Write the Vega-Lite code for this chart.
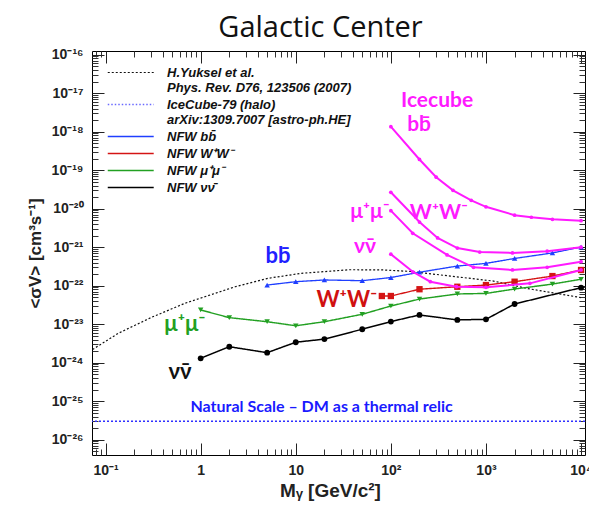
{
  "$schema": "https://vega.github.io/schema/vega-lite/v6.json",
  "width": 493,
  "height": 404,
  "autosize": {"type": "none"},
  "padding": {"left": 92, "top": 51, "right": 4, "bottom": 63},
  "background": "white",
  "title": {"text": "Galactic Center", "font": "Open Sans", "fontSize": 29, "fontWeight": "normal", "color": "#111111", "anchor": "middle", "dx": -18, "offset": 5},
  "config": {
    "view": {"stroke": "black", "strokeWidth": 1},
    "axis": {"grid": false, "domain": false, "labelFont": "Liberation Sans", "labelFontWeight": "bold", "labelFontSize": 14, "labelColor": "#222222", "titleFont": "Liberation Sans", "titleFontWeight": "bold", "titleColor": "#222222", "tickColor": "#333333"},
    "legend": {"orient": "top-left", "offset": 15, "title": null, "symbolType": "M-1,0L7,0", "symbolSize": 132, "symbolStrokeWidth": 2, "labelFont": "Liberation Sans", "labelFontStyle": "italic", "labelFontWeight": "bold", "labelFontSize": 13, "labelColor": "#111111", "labelOffset": 47, "rowPadding": 3, "labelLimit": 300}
  },
  "datasets": {
    "nfw": [
      {"series": "Yuksel", "M": 0.073, "sv": 2.2e-24},
      {"series": "Yuksel", "M": 0.136, "sv": 5.8e-24},
      {"series": "Yuksel", "M": 0.305, "sv": 1.51e-23},
      {"series": "Yuksel", "M": 0.684, "sv": 3.5e-23},
      {"series": "Yuksel", "M": 2.3, "sv": 9.4e-23},
      {"series": "Yuksel", "M": 5.14, "sv": 1.56e-22},
      {"series": "Yuksel", "M": 11.5, "sv": 2.1e-22},
      {"series": "Yuksel", "M": 19.5, "sv": 2.31e-22},
      {"series": "Yuksel", "M": 37, "sv": 2.6e-22},
      {"series": "Yuksel", "M": 82, "sv": 2.57e-22},
      {"series": "Yuksel", "M": 160, "sv": 2.35e-22},
      {"series": "Yuksel", "M": 420, "sv": 1.78e-22},
      {"series": "Yuksel", "M": 1200, "sv": 1.32e-22},
      {"series": "Yuksel", "M": 2700, "sv": 8.5e-23},
      {"series": "Yuksel", "M": 10000, "sv": 4.9e-23},
      {"series": "NFW bb", "M": 5, "sv": 1.04e-22},
      {"series": "NFW bb", "M": 10, "sv": 1.27e-22},
      {"series": "NFW bb", "M": 20, "sv": 1.41e-22},
      {"series": "NFW bb", "M": 50, "sv": 1.35e-22},
      {"series": "NFW bb", "M": 100, "sv": 1.63e-22},
      {"series": "NFW bb", "M": 200, "sv": 2.24e-22},
      {"series": "NFW bb", "M": 500, "sv": 3.24e-22},
      {"series": "NFW bb", "M": 1000, "sv": 3.8e-22},
      {"series": "NFW bb", "M": 2000, "sv": 5.1e-22},
      {"series": "NFW bb", "M": 5000, "sv": 7.1e-22},
      {"series": "NFW bb", "M": 10000, "sv": 1.01e-21},
      {"series": "NFW WW", "M": 80.4, "sv": 5.4e-23},
      {"series": "NFW WW", "M": 100, "sv": 5.4e-23},
      {"series": "NFW WW", "M": 200, "sv": 8.1e-23},
      {"series": "NFW WW", "M": 500, "sv": 9.4e-23},
      {"series": "NFW WW", "M": 1000, "sv": 1.04e-22},
      {"series": "NFW WW", "M": 2000, "sv": 1.27e-22},
      {"series": "NFW WW", "M": 5000, "sv": 1.78e-22},
      {"series": "NFW WW", "M": 10000, "sv": 2.56e-22},
      {"series": "NFW mumu", "M": 1, "sv": 2.34e-23},
      {"series": "NFW mumu", "M": 2, "sv": 1.48e-23},
      {"series": "NFW mumu", "M": 5, "sv": 1.16e-23},
      {"series": "NFW mumu", "M": 10, "sv": 9.1e-24},
      {"series": "NFW mumu", "M": 20, "sv": 1.16e-23},
      {"series": "NFW mumu", "M": 50, "sv": 1.81e-23},
      {"series": "NFW mumu", "M": 100, "sv": 2.97e-23},
      {"series": "NFW mumu", "M": 200, "sv": 4.5e-23},
      {"series": "NFW mumu", "M": 500, "sv": 6.1e-23},
      {"series": "NFW mumu", "M": 1000, "sv": 6.3e-23},
      {"series": "NFW mumu", "M": 2000, "sv": 8.2e-23},
      {"series": "NFW mumu", "M": 5000, "sv": 1.1e-22},
      {"series": "NFW mumu", "M": 10000, "sv": 1.47e-22},
      {"series": "NFW nunu", "M": 1, "sv": 1.3e-24},
      {"series": "NFW nunu", "M": 2, "sv": 2.6e-24},
      {"series": "NFW nunu", "M": 5, "sv": 1.82e-24},
      {"series": "NFW nunu", "M": 10, "sv": 3.4e-24},
      {"series": "NFW nunu", "M": 20, "sv": 4.1e-24},
      {"series": "NFW nunu", "M": 50, "sv": 7.4e-24},
      {"series": "NFW nunu", "M": 100, "sv": 1.17e-23},
      {"series": "NFW nunu", "M": 200, "sv": 1.74e-23},
      {"series": "NFW nunu", "M": 500, "sv": 1.29e-23},
      {"series": "NFW nunu", "M": 1000, "sv": 1.34e-23},
      {"series": "NFW nunu", "M": 2000, "sv": 3.35e-23},
      {"series": "NFW nunu", "M": 10000, "sv": 8.9e-23}
    ],
    "ice": [
      {"channel": "bb", "M": 100, "sv": 1.35e-18},
      {"channel": "bb", "M": 200, "sv": 1.9e-19},
      {"channel": "bb", "M": 300, "sv": 6.6e-20},
      {"channel": "bb", "M": 450, "sv": 3.0e-20},
      {"channel": "bb", "M": 700, "sv": 1.65e-20},
      {"channel": "bb", "M": 1000, "sv": 1.12e-20},
      {"channel": "bb", "M": 2000, "sv": 6.8e-21},
      {"channel": "bb", "M": 3000, "sv": 6.0e-21},
      {"channel": "bb", "M": 5000, "sv": 5.3e-21},
      {"channel": "bb", "M": 10000, "sv": 4.9e-21},
      {"channel": "WW", "M": 100, "sv": 2.67e-20},
      {"channel": "WW", "M": 200, "sv": 4.5e-21},
      {"channel": "WW", "M": 310, "sv": 1.74e-21},
      {"channel": "WW", "M": 500, "sv": 9.5e-22},
      {"channel": "WW", "M": 860, "sv": 7.5e-22},
      {"channel": "WW", "M": 1900, "sv": 7.1e-22},
      {"channel": "WW", "M": 4400, "sv": 7.9e-22},
      {"channel": "WW", "M": 10000, "sv": 1.0e-21},
      {"channel": "mumu", "M": 100, "sv": 8.9e-21},
      {"channel": "mumu", "M": 170, "sv": 2.3e-21},
      {"channel": "mumu", "M": 390, "sv": 6.3e-22},
      {"channel": "mumu", "M": 740, "sv": 3.0e-22},
      {"channel": "mumu", "M": 1900, "sv": 2.56e-22},
      {"channel": "mumu", "M": 4400, "sv": 3.0e-22},
      {"channel": "mumu", "M": 10000, "sv": 4.2e-22},
      {"channel": "nunu", "M": 100, "sv": 6.6e-22},
      {"channel": "nunu", "M": 170, "sv": 2.3e-22},
      {"channel": "nunu", "M": 260, "sv": 1.27e-22},
      {"channel": "nunu", "M": 490, "sv": 9.4e-23},
      {"channel": "nunu", "M": 1000, "sv": 9.1e-23},
      {"channel": "nunu", "M": 2900, "sv": 1.15e-22},
      {"channel": "nunu", "M": 10000, "sv": 2.56e-22}
    ],
    "notes": [
      {"group": "nfw_bb", "label": "bb̄", "M": 6.5, "sv": 5.9e-22},
      {"group": "nfw_ww", "label": "W⁺W⁻", "M": 34.5, "sv": 4.3e-23},
      {"group": "nfw_mumu", "label": "μ⁺μ⁻", "M": 0.684, "sv": 1.0e-23},
      {"group": "nfw_nunu", "label": "νν̄", "M": 0.605, "sv": 5.8e-25},
      {"group": "ice", "label": "νν̄", "M": 53.4, "sv": 1.0e-21},
      {"group": "ice", "label": "μ⁺μ⁻", "M": 60.3, "sv": 8.1e-21},
      {"group": "ice", "label": "W⁺W⁻", "M": 320, "sv": 7.8e-21},
      {"group": "ice", "label": "Icecube", "M": 306, "sv": 6.3e-18},
      {"group": "ice", "label": "bb̄", "M": 198, "sv": 1.5e-18},
      {"group": "relic", "label": "Natural Scale – DM as a thermal relic", "M": 18.7, "sv": 7.2e-26}
    ]
  },
  "resolve": {"axis": {"x": "independent", "y": "independent"}},
  "layer": [
    {
      "data": {"name": "nfw"},
      "mark": {"type": "line", "clip": true},
      "encoding": {
        "x": {"field": "M", "type": "quantitative", "scale": {"type": "log", "domain": [0.072, 11000], "nice": false},
          "axis": {"orient": "bottom", "values": [0.1, 1, 10, 100, 1000, 10000], "tickSize": -12, "tickColor": "#222222", "labelPadding": 20,
            "labelExpr": "round(log(datum.value)/LN10) == 0 ? '1' : round(log(datum.value)/LN10) == 1 ? '10' : round(log(datum.value)/LN10) == -1 ? '10⁻¹' : '10' + ['⁰','¹','²','³','⁴','⁵','⁶','⁷','⁸','⁹'][round(log(datum.value)/LN10)]",
            "title": "Mᵧ [GeV/c²]", "titleFontSize": 19, "titlePadding": 4, "titleX": 238}},
        "y": {"field": "sv", "type": "quantitative", "scale": {"type": "log", "domain": [4e-27, 1.25e-16], "nice": false},
          "axis": {"orient": "left", "values": [1e-26, 1e-25, 1e-24, 1e-23, 1e-22, 1e-21, 1e-20, 1e-19, 1e-18, 1e-17, 1e-16], "tickSize": -12, "tickColor": "#222222", "labelPadding": 21,
            "labelExpr": "'10⁻' + ['⁰','¹','²','³','⁴','⁵','⁶','⁷','⁸','⁹'][floor(-round(log(datum.value)/LN10)/10)] + ['⁰','¹','²','³','⁴','⁵','⁶','⁷','⁸','⁹'][(-round(log(datum.value)/LN10)) % 10]",
            "title": "<σV> [cm³s⁻¹]", "titleFontSize": 17, "titlePadding": 6}},
        "color": {"field": "series", "type": "nominal",
          "scale": {"domain": ["Yuksel", "IceCube79", "NFW bb", "NFW WW", "NFW mumu", "NFW nunu"], "range": ["#111111", "#6a6aff", "#1f3fff", "#d41414", "#22a022", "#000000"]},
          "legend": {"labelExpr": "datum.label == 'Yuksel' ? ['H.Yuksel et al.', 'Phys. Rev. D76, 123506 (2007)'] : datum.label == 'IceCube79' ? ['IceCube-79 (halo)', '\u2003arXiv:1309.7007 [astro-ph.HE]'] : datum.label == 'NFW bb' ? 'NFW bb̄' : datum.label == 'NFW WW' ? 'NFW W⁺W⁻' : datum.label == 'NFW mumu' ? 'NFW μ⁺μ⁻' : 'NFW νν̄'"}},
        "strokeDash": {"field": "series", "type": "nominal",
          "scale": {"domain": ["Yuksel", "IceCube79", "NFW bb", "NFW WW", "NFW mumu", "NFW nunu"], "range": [[2, 2], [1.5, 2], [1, 0], [1, 0], [1, 0], [1, 0]]},
          "legend": {"labelExpr": "datum.label == 'Yuksel' ? ['H.Yuksel et al.', 'Phys. Rev. D76, 123506 (2007)'] : datum.label == 'IceCube79' ? ['IceCube-79 (halo)', '\u2003arXiv:1309.7007 [astro-ph.HE]'] : datum.label == 'NFW bb' ? 'NFW bb̄' : datum.label == 'NFW WW' ? 'NFW W⁺W⁻' : datum.label == 'NFW mumu' ? 'NFW μ⁺μ⁻' : 'NFW νν̄'"}},
        "strokeWidth": {"field": "series", "type": "nominal",
          "scale": {"domain": ["Yuksel", "IceCube79", "NFW bb", "NFW WW", "NFW mumu", "NFW nunu"], "range": [1.2, 1.5, 2, 2, 2, 2]},
          "legend": {"labelExpr": "datum.label == 'Yuksel' ? ['H.Yuksel et al.', 'Phys. Rev. D76, 123506 (2007)'] : datum.label == 'IceCube79' ? ['IceCube-79 (halo)', '\u2003arXiv:1309.7007 [astro-ph.HE]'] : datum.label == 'NFW bb' ? 'NFW bb̄' : datum.label == 'NFW WW' ? 'NFW W⁺W⁻' : datum.label == 'NFW mumu' ? 'NFW μ⁺μ⁻' : 'NFW νν̄'"}}
      }
    },
    {
      "data": {"name": "nfw"},
      "transform": [{"filter": "datum.series == 'NFW bb'"}],
      "mark": {"type": "point", "filled": true, "opacity": 1, "size": 30, "shape": "triangle-up", "color": "#1f3fff", "clip": true},
      "encoding": {
        "x": {"field": "M", "type": "quantitative", "scale": {"type": "log", "domain": [0.072, 11000], "nice": false},
          "axis": {"orient": "bottom", "values": [0.08, 0.09, 0.2, 0.3, 0.4, 0.5, 0.6, 0.7, 0.8, 0.9, 2, 3, 4, 5, 6, 7, 8, 9, 20, 30, 40, 50, 60, 70, 80, 90, 200, 300, 400, 500, 600, 700, 800, 900, 2000, 3000, 4000, 5000, 6000, 7000, 8000, 9000], "tickSize": -6, "labels": false, "title": null}},
        "y": {"field": "sv", "type": "quantitative", "scale": {"type": "log", "domain": [4e-27, 1.25e-16], "nice": false},
          "axis": {"orient": "left", "values": [5e-27, 6e-27, 7e-27, 8e-27, 9e-27, 2e-26, 3e-26, 4e-26, 5e-26, 6e-26, 7e-26, 8e-26, 9e-26, 2e-25, 3e-25, 4e-25, 5e-25, 6e-25, 7e-25, 8e-25, 9e-25, 2e-24, 3e-24, 4e-24, 5e-24, 6e-24, 7e-24, 8e-24, 9e-24, 2e-23, 3e-23, 4e-23, 5e-23, 6e-23, 7e-23, 8e-23, 9e-23, 2e-22, 3e-22, 4e-22, 5e-22, 6e-22, 7e-22, 8e-22, 9e-22, 2e-21, 3e-21, 4e-21, 5e-21, 6e-21, 7e-21, 8e-21, 9e-21, 2e-20, 3e-20, 4e-20, 5e-20, 6e-20, 7e-20, 8e-20, 9e-20, 2e-19, 3e-19, 4e-19, 5e-19, 6e-19, 7e-19, 8e-19, 9e-19, 2e-18, 3e-18, 4e-18, 5e-18, 6e-18, 7e-18, 8e-18, 9e-18, 2e-17, 3e-17, 4e-17, 5e-17, 6e-17, 7e-17, 8e-17, 9e-17], "tickSize": -6, "labels": false, "title": null}}
      }
    },
    {
      "data": {"name": "nfw"},
      "transform": [{"filter": "datum.series == 'NFW WW'"}],
      "mark": {"type": "point", "filled": true, "opacity": 1, "size": 40, "shape": "square", "color": "#d41414", "clip": true},
      "encoding": {
        "x": {"field": "M", "type": "quantitative", "axis": null},
        "y": {"field": "sv", "type": "quantitative", "axis": null}
      }
    },
    {
      "data": {"name": "nfw"},
      "transform": [{"filter": "datum.series == 'NFW mumu'"}],
      "mark": {"type": "point", "filled": true, "opacity": 1, "size": 30, "shape": "triangle-down", "color": "#22a022", "clip": true},
      "encoding": {
        "x": {"field": "M", "type": "quantitative", "axis": null},
        "y": {"field": "sv", "type": "quantitative", "axis": null}
      }
    },
    {
      "data": {"name": "nfw"},
      "transform": [{"filter": "datum.series == 'NFW nunu'"}],
      "mark": {"type": "point", "filled": true, "opacity": 1, "size": 34, "shape": "circle", "color": "#000000", "clip": true},
      "encoding": {
        "x": {"field": "M", "type": "quantitative", "axis": null},
        "y": {"field": "sv", "type": "quantitative", "axis": null}
      }
    },
    {
      "data": {"name": "ice"},
      "mark": {"type": "line", "color": "#ff1aff", "strokeWidth": 2, "clip": true},
      "encoding": {
        "x": {"field": "M", "type": "quantitative", "scale": {"type": "log", "domain": [0.072, 11000], "nice": false},
          "axis": {"orient": "top", "values": [0.1, 1, 10, 100, 1000, 10000], "tickSize": -12, "tickColor": "#222222", "labels": false, "title": null}},
        "y": {"field": "sv", "type": "quantitative", "scale": {"type": "log", "domain": [4e-27, 1.25e-16], "nice": false},
          "axis": {"orient": "right", "values": [1e-26, 1e-25, 1e-24, 1e-23, 1e-22, 1e-21, 1e-20, 1e-19, 1e-18, 1e-17, 1e-16], "tickSize": -12, "tickColor": "#222222", "labels": false, "title": null}},
        "detail": {"field": "channel", "type": "nominal"}
      }
    },
    {
      "data": {"name": "ice"},
      "mark": {"type": "point", "filled": true, "opacity": 1, "size": 14, "color": "#ff1aff", "clip": true},
      "encoding": {
        "x": {"field": "M", "type": "quantitative", "scale": {"type": "log", "domain": [0.072, 11000], "nice": false},
          "axis": {"orient": "top", "values": [0.08, 0.09, 0.2, 0.3, 0.4, 0.5, 0.6, 0.7, 0.8, 0.9, 2, 3, 4, 5, 6, 7, 8, 9, 20, 30, 40, 50, 60, 70, 80, 90, 200, 300, 400, 500, 600, 700, 800, 900, 2000, 3000, 4000, 5000, 6000, 7000, 8000, 9000], "tickSize": -6, "labels": false, "title": null}},
        "y": {"field": "sv", "type": "quantitative", "scale": {"type": "log", "domain": [4e-27, 1.25e-16], "nice": false},
          "axis": {"orient": "right", "values": [5e-27, 6e-27, 7e-27, 8e-27, 9e-27, 2e-26, 3e-26, 4e-26, 5e-26, 6e-26, 7e-26, 8e-26, 9e-26, 2e-25, 3e-25, 4e-25, 5e-25, 6e-25, 7e-25, 8e-25, 9e-25, 2e-24, 3e-24, 4e-24, 5e-24, 6e-24, 7e-24, 8e-24, 9e-24, 2e-23, 3e-23, 4e-23, 5e-23, 6e-23, 7e-23, 8e-23, 9e-23, 2e-22, 3e-22, 4e-22, 5e-22, 6e-22, 7e-22, 8e-22, 9e-22, 2e-21, 3e-21, 4e-21, 5e-21, 6e-21, 7e-21, 8e-21, 9e-21, 2e-20, 3e-20, 4e-20, 5e-20, 6e-20, 7e-20, 8e-20, 9e-20, 2e-19, 3e-19, 4e-19, 5e-19, 6e-19, 7e-19, 8e-19, 9e-19, 2e-18, 3e-18, 4e-18, 5e-18, 6e-18, 7e-18, 8e-18, 9e-18, 2e-17, 3e-17, 4e-17, 5e-17, 6e-17, 7e-17, 8e-17, 9e-17], "tickSize": -6, "labels": false, "title": null}}
      }
    },
    {
      "data": {"values": [{"level": "thermal relic"}]},
      "mark": {"type": "rule", "color": "#3030ff", "strokeWidth": 1.6, "strokeDash": [2, 2]},
      "encoding": {
        "y": {"datum": 3e-26, "type": "quantitative", "scale": {"type": "log", "domain": [4e-27, 1.25e-16], "nice": false}, "axis": null}
      }
    },
    {
      "data": {"name": "notes"},
      "transform": [{"filter": "datum.group == 'nfw_bb'"}],
      "mark": {"type": "text", "font": "Lato", "fontWeight": "bold", "fontSize": 22, "color": "#2020ff"},
      "encoding": {
        "x": {"field": "M", "type": "quantitative", "axis": null},
        "y": {"field": "sv", "type": "quantitative", "axis": null},
        "text": {"field": "label"}
      }
    },
    {
      "data": {"name": "notes"},
      "transform": [{"filter": "datum.group == 'nfw_ww'"}],
      "mark": {"type": "text", "font": "Lato", "fontWeight": "bold", "fontSize": 22, "color": "#d01010"},
      "encoding": {
        "x": {"field": "M", "type": "quantitative", "axis": null},
        "y": {"field": "sv", "type": "quantitative", "axis": null},
        "text": {"field": "label"}
      }
    },
    {
      "data": {"name": "notes"},
      "transform": [{"filter": "datum.group == 'nfw_mumu'"}],
      "mark": {"type": "text", "font": "Lato", "fontWeight": "bold", "fontSize": 22, "color": "#22a022"},
      "encoding": {
        "x": {"field": "M", "type": "quantitative", "axis": null},
        "y": {"field": "sv", "type": "quantitative", "axis": null},
        "text": {"field": "label"}
      }
    },
    {
      "data": {"name": "notes"},
      "transform": [{"filter": "datum.group == 'nfw_nunu'"}],
      "mark": {"type": "text", "font": "Lato", "fontWeight": "bold", "fontSize": 22, "color": "#111111"},
      "encoding": {
        "x": {"field": "M", "type": "quantitative", "axis": null},
        "y": {"field": "sv", "type": "quantitative", "axis": null},
        "text": {"field": "label"}
      }
    },
    {
      "data": {"name": "notes"},
      "transform": [{"filter": "datum.group == 'ice'"}],
      "mark": {"type": "text", "font": "Lato", "fontWeight": "bold", "fontSize": 21, "color": "#ff1aff"},
      "encoding": {
        "x": {"field": "M", "type": "quantitative", "axis": null},
        "y": {"field": "sv", "type": "quantitative", "axis": null},
        "text": {"field": "label"}
      }
    },
    {
      "data": {"name": "notes"},
      "transform": [{"filter": "datum.group == 'relic'"}],
      "mark": {"type": "text", "font": "Lato", "fontWeight": "bold", "fontSize": 16, "color": "#1a1aff"},
      "encoding": {
        "x": {"field": "M", "type": "quantitative", "axis": null},
        "y": {"field": "sv", "type": "quantitative", "axis": null},
        "text": {"field": "label"}
      }
    }
  ]
}
